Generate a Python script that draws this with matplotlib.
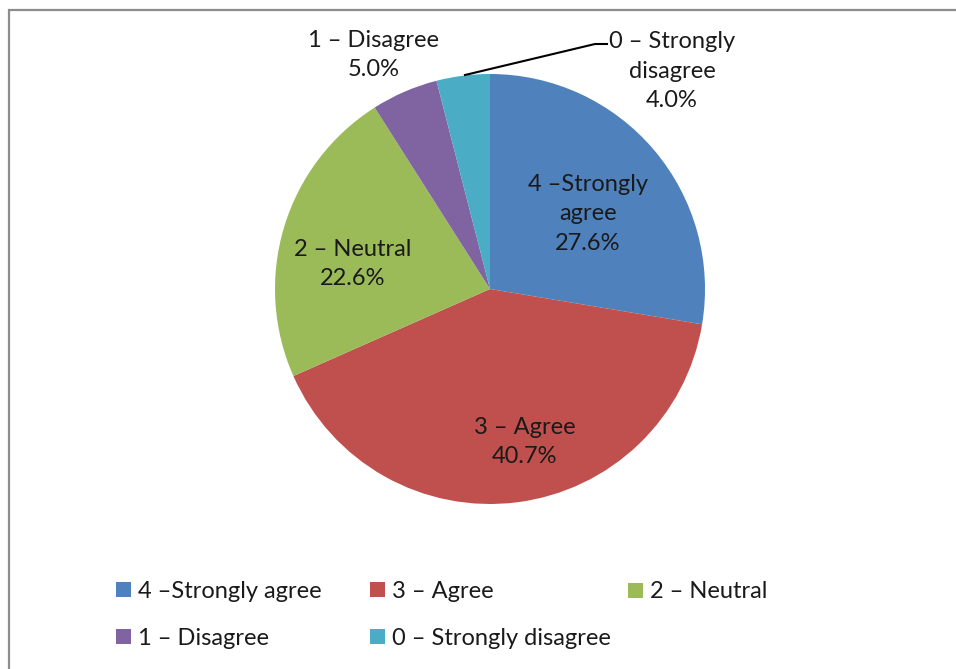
import matplotlib
matplotlib.use("Agg")
import matplotlib.pyplot as plt
from matplotlib.patches import Rectangle
from matplotlib.legend import Legend

plt.rcParams['font.family'] = ['Lato', 'DejaVu Sans']

categories = ["4 \u2013Strongly agree", "3 \u2013 Agree", "2 \u2013 Neutral",
              "1 \u2013 Disagree", "0 \u2013 Strongly disagree"]
values = [27.6, 40.7, 22.6, 5.0, 4.0]
slice_labels = ["4 \u2013Strongly\nagree", "3 \u2013 Agree", "2 \u2013 Neutral",
                "1 \u2013 Disagree", "0 \u2013 Strongly\ndisagree"]
colors = ["#4F81BD", "#C0504D", "#9BBB59", "#8064A2", "#4BACC6"]

W, H = 956, 669
fig = plt.figure(figsize=(W / 100, H / 100), dpi=100)
ax = fig.add_axes([0, 0, 1, 1])

def P(x, y):
    return (x, H - y)

wedges, _ = ax.pie(values, colors=colors, startangle=90, counterclock=False,
                   center=P(490, 289), radius=215,
                   wedgeprops=dict(linewidth=0))
ax.set_xlim(0, W)
ax.set_ylim(0, H)
ax.set_aspect('equal')
ax.axis('off')

txt_color = "#1a1a1a"
fs = 17
label_pos = [P(588, 214), P(525, 442), P(353, 264), P(374, 55), P(672, 71)]
for lab, v, pos in zip(slice_labels, values, label_pos):
    ax.text(pos[0], pos[1], f"{lab}\n{v:.1f}%", ha='center', va='center',
            fontsize=fs, color=txt_color, linespacing=1.5)

# leader line for smallest slice
lx, ly = zip(P(465, 75), P(595, 44), P(607, 44))
ax.plot(lx, ly, color='black', lw=1.5)

# legend in three columns (row-major order like the reference)
col_x = [116, 370, 628]
cols = [[0, 3], [1, 4], [2]]
for cx, idxs in zip(col_x, cols):
    yc = 615 if len(idxs) == 2 else 592
    leg = Legend(ax, [wedges[i] for i in idxs], [categories[i] for i in idxs],
                 loc='center left', bbox_to_anchor=(cx / W, 1 - yc / H),
                 bbox_transform=fig.transFigure, frameon=False,
                 fontsize=fs, handlelength=0.62, handleheight=0.62,
                 handletextpad=0.3, labelspacing=1.1, borderpad=0,
                 borderaxespad=0, labelcolor=txt_color)
    ax.add_artist(leg)

# chart area border (top and left visible)
fig.patches.append(Rectangle((9, -20), 1200, H - 10 + 20, transform=None,
                             fill=False, edgecolor='#8c8c8c', linewidth=1.6,
                             figure=fig))

fig.savefig("out.png", dpi=100)
